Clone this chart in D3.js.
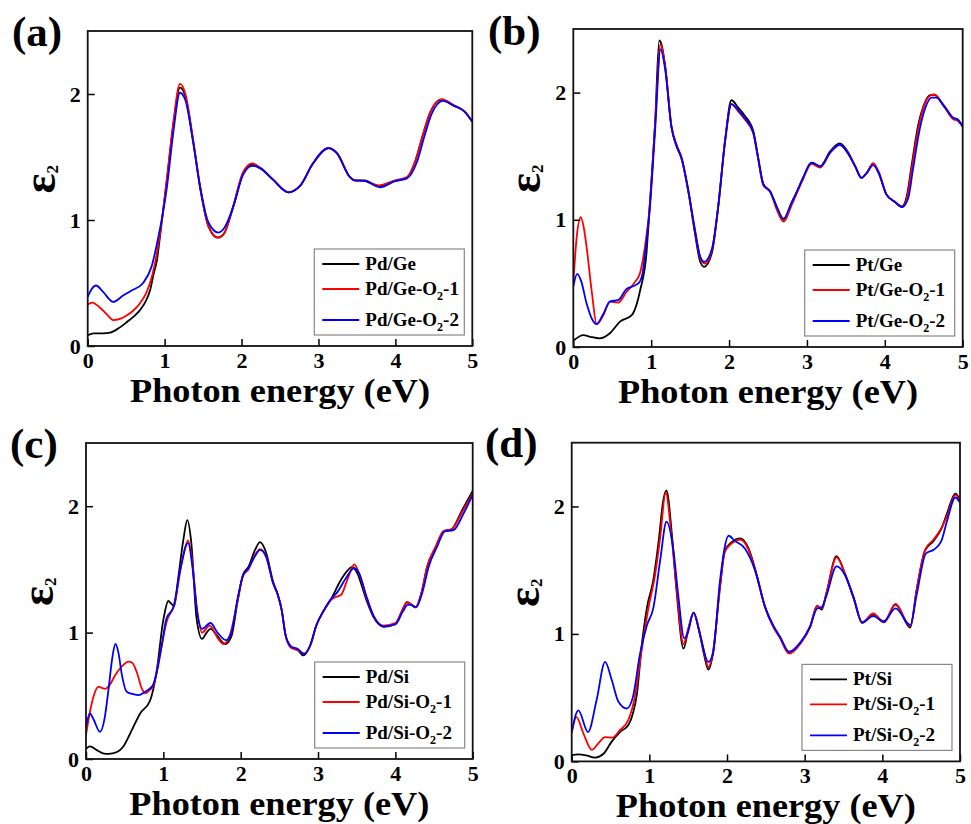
<!DOCTYPE html>
<html>
<head>
<meta charset="utf-8">
<script src="https://cdn.jsdelivr.net/npm/d3@7/dist/d3.min.js"></script>
<style>
  body { margin: 0; background: #fff; }
  text { font-family: "Liberation Serif", "Times New Roman", serif; font-weight: bold; fill: #000; }
</style>
</head>
<body>
<script>
// ---------------- DATA ----------------
const xTicks = [0, 1, 2, 3, 4, 5];
const yTicks = [0, 1, 2];
const xDomain = [0, 5];
const yDomain = [0, 2.5];
const xTitle = "Photon energy (eV)";
const panelLabels = ["(a)", "(b)", "(c)", "(d)"];

const legendA = ["Pd/Ge", "Pd/Ge-O2-1", "Pd/Ge-O2-2"];
const legendB = ["Pt/Ge", "Pt/Ge-O2-1", "Pt/Ge-O2-2"];
const legendC = ["Pd/Si", "Pd/Si-O2-1", "Pd/Si-O2-2"];
const legendD = ["Pt/Si", "Pt/Si-O2-1", "Pt/Si-O2-2"];

// (a) Pd/Ge  [energy eV, eps2]
const pdGe = [[0,0.085],[0.08,0.1],[0.2,0.1],[0.29,0.106],[0.4,0.14],[0.51,0.19],[0.6,0.235],[0.68,0.285],[0.75,0.35],[0.81,0.44],[0.86,0.58],[0.9,0.68],[0.94,0.87],[1.03,1.32],[1.11,1.74],[1.2,2.05],[1.27,1.98],[1.37,1.63],[1.46,1.26],[1.57,0.95],[1.69,0.86],[1.77,0.89],[1.89,1.1],[2.02,1.37],[2.13,1.44],[2.24,1.41],[2.41,1.32],[2.61,1.22],[2.76,1.27],[2.93,1.45],[3.13,1.57],[3.24,1.53],[3.41,1.34],[3.47,1.315],[3.6,1.315],[3.78,1.27],[4.0,1.31],[4.15,1.335],[4.26,1.47],[4.36,1.68],[4.45,1.85],[4.6,1.955],[4.75,1.91],[4.9,1.86],[5.0,1.78]];
const pdGeO1 = [[0,0.33],[0.06,0.345],[0.15,0.31],[0.25,0.25],[0.33,0.206],[0.42,0.215],[0.5,0.24],[0.59,0.28],[0.68,0.34],[0.76,0.42],[0.83,0.54],[0.94,0.89],[1.03,1.33],[1.11,1.76],[1.2,2.08],[1.27,2.0],[1.37,1.64],[1.46,1.27],[1.57,0.95],[1.7,0.86],[1.78,0.9],[1.89,1.11],[2.02,1.38],[2.14,1.45],[2.25,1.41],[2.41,1.32],[2.61,1.22],[2.76,1.27],[2.93,1.45],[3.13,1.57],[3.24,1.53],[3.41,1.34],[3.47,1.315],[3.6,1.31],[3.78,1.275],[4.0,1.315],[4.15,1.34],[4.26,1.47],[4.36,1.68],[4.45,1.85],[4.6,1.96],[4.75,1.915],[4.9,1.86],[5.0,1.78]];
const pdGeO2 = [[0,0.39],[0.05,0.45],[0.108,0.48],[0.2,0.43],[0.33,0.35],[0.46,0.4],[0.57,0.44],[0.72,0.5],[0.83,0.63],[0.9,0.81],[1.03,1.26],[1.11,1.68],[1.2,2.01],[1.27,1.95],[1.37,1.62],[1.46,1.27],[1.57,0.98],[1.7,0.9],[1.78,0.94],[1.9,1.12],[2.02,1.36],[2.14,1.43],[2.25,1.41],[2.41,1.32],[2.61,1.22],[2.76,1.27],[2.93,1.45],[3.13,1.57],[3.24,1.53],[3.41,1.34],[3.47,1.315],[3.6,1.31],[3.8,1.26],[4.0,1.31],[4.15,1.33],[4.28,1.46],[4.38,1.67],[4.47,1.84],[4.62,1.945],[4.75,1.91],[4.9,1.86],[5.0,1.78]];

// (b) Pt/Ge
const ptGe = [[0,0.05],[0.13,0.094],[0.22,0.08],[0.34,0.068],[0.47,0.108],[0.6,0.2],[0.75,0.25],[0.86,0.45],[0.94,0.74],[0.98,1.1],[1.05,1.76],[1.104,2.41],[1.12,2.4],[1.18,2.21],[1.26,1.73],[1.33,1.57],[1.39,1.48],[1.48,1.21],[1.56,0.9],[1.63,0.67],[1.68,0.63],[1.78,0.74],[1.86,1.1],[1.95,1.63],[2.03,1.94],[2.12,1.88],[2.2,1.82],[2.31,1.7],[2.37,1.5],[2.44,1.28],[2.53,1.22],[2.6,1.12],[2.7,1.0],[2.8,1.13],[2.87,1.22],[2.95,1.33],[3.06,1.45],[3.17,1.42],[3.3,1.54],[3.42,1.6],[3.53,1.53],[3.62,1.42],[3.7,1.33],[3.77,1.37],[3.85,1.44],[3.92,1.37],[4.02,1.2],[4.13,1.14],[4.22,1.105],[4.28,1.18],[4.34,1.41],[4.43,1.75],[4.5,1.9],[4.58,1.98],[4.64,1.98],[4.75,1.9],[4.88,1.8],[4.93,1.79],[5.0,1.735]];
const ptGeO1 = [[0,0.5],[0.04,0.84],[0.095,1.02],[0.14,0.92],[0.17,0.79],[0.24,0.42],[0.3,0.18],[0.385,0.25],[0.47,0.357],[0.58,0.35],[0.68,0.43],[0.79,0.51],[0.856,0.58],[0.92,0.79],[0.98,1.1],[1.05,1.75],[1.12,2.38],[1.18,2.2],[1.26,1.74],[1.33,1.58],[1.39,1.48],[1.48,1.22],[1.56,0.92],[1.63,0.7],[1.69,0.655],[1.78,0.76],[1.86,1.1],[1.95,1.63],[2.03,1.91],[2.12,1.85],[2.2,1.79],[2.31,1.68],[2.37,1.49],[2.44,1.27],[2.53,1.22],[2.6,1.1],[2.7,0.985],[2.8,1.11],[2.87,1.21],[2.95,1.32],[3.06,1.44],[3.17,1.41],[3.3,1.53],[3.42,1.59],[3.53,1.52],[3.62,1.42],[3.7,1.33],[3.77,1.37],[3.85,1.445],[3.92,1.38],[4.02,1.2],[4.13,1.14],[4.22,1.1],[4.28,1.16],[4.34,1.38],[4.43,1.72],[4.5,1.89],[4.58,1.975],[4.64,1.985],[4.75,1.9],[4.88,1.79],[4.93,1.78],[5.0,1.73]];
const ptGeO2 = [[0,0.475],[0.05,0.575],[0.1,0.52],[0.17,0.344],[0.24,0.22],[0.3,0.18],[0.385,0.26],[0.47,0.357],[0.58,0.37],[0.68,0.454],[0.81,0.49],[0.86,0.52],[0.89,0.58],[0.93,0.78],[0.98,1.07],[1.05,1.7],[1.12,2.34],[1.18,2.18],[1.26,1.73],[1.33,1.58],[1.39,1.49],[1.48,1.22],[1.56,0.93],[1.63,0.71],[1.68,0.67],[1.78,0.77],[1.86,1.1],[1.95,1.62],[2.03,1.91],[2.12,1.86],[2.2,1.8],[2.31,1.69],[2.37,1.5],[2.44,1.28],[2.53,1.22],[2.6,1.12],[2.7,1.01],[2.8,1.13],[2.87,1.22],[2.95,1.33],[3.06,1.45],[3.17,1.42],[3.3,1.53],[3.42,1.59],[3.53,1.52],[3.62,1.42],[3.7,1.33],[3.77,1.37],[3.85,1.43],[3.92,1.37],[4.02,1.2],[4.13,1.14],[4.22,1.1],[4.3,1.17],[4.36,1.39],[4.45,1.72],[4.52,1.88],[4.6,1.96],[4.66,1.96],[4.77,1.89],[4.88,1.8],[4.93,1.79],[5.0,1.735]];

// (c) Pd/Si
const pdSi = [[0,0.08],[0.05,0.1],[0.14,0.07],[0.22,0.045],[0.29,0.04],[0.4,0.055],[0.48,0.097],[0.57,0.2],[0.7,0.36],[0.83,0.465],[0.91,0.68],[1.0,1.1],[1.065,1.25],[1.1,1.23],[1.14,1.21],[1.19,1.42],[1.26,1.74],[1.31,1.89],[1.36,1.72],[1.43,1.11],[1.5,0.95],[1.56,1.0],[1.61,1.03],[1.69,0.98],[1.8,0.91],[1.88,0.97],[1.96,1.25],[2.03,1.46],[2.1,1.52],[2.19,1.66],[2.25,1.715],[2.33,1.63],[2.42,1.4],[2.48,1.3],[2.53,1.18],[2.58,0.98],[2.65,0.89],[2.74,0.86],[2.81,0.82],[2.9,0.9],[2.98,1.06],[3.07,1.17],[3.16,1.255],[3.29,1.41],[3.38,1.49],[3.44,1.52],[3.5,1.48],[3.63,1.25],[3.72,1.12],[3.85,1.045],[4.0,1.07],[4.1,1.19],[4.15,1.24],[4.19,1.23],[4.26,1.2],[4.34,1.32],[4.41,1.52],[4.52,1.67],[4.62,1.8],[4.73,1.82],[4.86,1.965],[5.0,2.12]];
const pdSiO1 = [[0,0.19],[0.05,0.37],[0.1,0.5],[0.16,0.57],[0.25,0.555],[0.3,0.58],[0.375,0.66],[0.46,0.73],[0.55,0.77],[0.6,0.76],[0.66,0.68],[0.72,0.56],[0.77,0.52],[0.83,0.55],[0.87,0.58],[0.96,0.84],[1.04,1.08],[1.15,1.24],[1.24,1.56],[1.32,1.73],[1.37,1.58],[1.43,1.21],[1.5,1.0],[1.6,1.055],[1.71,0.95],[1.78,0.91],[1.86,0.98],[1.96,1.25],[2.03,1.45],[2.1,1.5],[2.19,1.62],[2.25,1.66],[2.33,1.6],[2.42,1.39],[2.48,1.3],[2.53,1.18],[2.58,0.98],[2.65,0.88],[2.74,0.86],[2.82,0.835],[2.9,0.9],[2.98,1.06],[3.07,1.17],[3.16,1.255],[3.22,1.28],[3.3,1.3],[3.38,1.42],[3.47,1.54],[3.53,1.47],[3.63,1.27],[3.72,1.13],[3.85,1.055],[4.0,1.075],[4.1,1.19],[4.15,1.24],[4.19,1.23],[4.26,1.2],[4.34,1.32],[4.41,1.52],[4.52,1.68],[4.62,1.8],[4.73,1.82],[4.86,1.95],[5.0,2.1]];
const pdSiO2 = [[0,0.25],[0.05,0.36],[0.1,0.31],[0.18,0.215],[0.24,0.32],[0.29,0.545],[0.34,0.8],[0.38,0.91],[0.42,0.84],[0.46,0.68],[0.53,0.53],[0.6,0.515],[0.68,0.505],[0.76,0.53],[0.83,0.56],[0.87,0.59],[0.92,0.7],[0.98,0.9],[1.04,1.11],[1.13,1.2],[1.22,1.5],[1.32,1.71],[1.38,1.5],[1.44,1.15],[1.5,1.03],[1.61,1.076],[1.7,1.0],[1.81,0.94],[1.88,1.0],[1.96,1.27],[2.03,1.45],[2.1,1.51],[2.19,1.61],[2.25,1.655],[2.33,1.6],[2.42,1.39],[2.48,1.3],[2.53,1.18],[2.58,0.98],[2.65,0.89],[2.74,0.87],[2.82,0.83],[2.9,0.9],[2.98,1.06],[3.07,1.17],[3.16,1.26],[3.25,1.32],[3.35,1.42],[3.47,1.51],[3.53,1.47],[3.63,1.28],[3.72,1.13],[3.85,1.05],[4.0,1.065],[4.1,1.17],[4.16,1.22],[4.2,1.22],[4.27,1.2],[4.35,1.32],[4.43,1.52],[4.54,1.68],[4.64,1.8],[4.75,1.81],[4.88,1.94],[5.0,2.09]];

// (d) Pt/Si
const ptSi = [[0,0.05],[0.086,0.055],[0.2,0.045],[0.3,0.03],[0.41,0.06],[0.515,0.155],[0.62,0.23],[0.73,0.285],[0.79,0.38],[0.84,0.53],[0.9,0.9],[0.97,1.21],[1.05,1.42],[1.12,1.73],[1.18,2.05],[1.22,2.125],[1.29,1.78],[1.35,1.34],[1.44,0.885],[1.5,1.03],[1.57,1.167],[1.63,1.055],[1.7,0.85],[1.76,0.72],[1.82,0.85],[1.91,1.37],[1.97,1.65],[2.06,1.72],[2.17,1.75],[2.27,1.68],[2.38,1.47],[2.49,1.21],[2.6,1.055],[2.68,0.977],[2.8,0.85],[2.94,0.925],[3.07,1.055],[3.16,1.22],[3.22,1.19],[3.28,1.32],[3.41,1.61],[3.52,1.47],[3.63,1.29],[3.74,1.086],[3.88,1.15],[4.02,1.09],[4.17,1.23],[4.36,1.05],[4.44,1.34],[4.55,1.655],[4.66,1.73],[4.76,1.825],[4.83,1.94],[4.94,2.1],[5.0,2.05]];
const ptSiO1 = [[0,0.22],[0.06,0.35],[0.15,0.22],[0.26,0.09],[0.34,0.14],[0.43,0.19],[0.52,0.186],[0.62,0.245],[0.73,0.325],[0.82,0.53],[0.9,0.87],[0.99,1.21],[1.07,1.45],[1.14,1.76],[1.21,2.11],[1.28,1.8],[1.35,1.36],[1.44,0.92],[1.5,1.04],[1.57,1.167],[1.63,1.06],[1.7,0.87],[1.76,0.74],[1.82,0.86],[1.91,1.37],[1.97,1.64],[2.06,1.71],[2.17,1.74],[2.27,1.67],[2.38,1.46],[2.49,1.21],[2.6,1.05],[2.68,0.97],[2.8,0.845],[2.94,0.92],[3.07,1.055],[3.16,1.22],[3.22,1.2],[3.28,1.32],[3.41,1.6],[3.52,1.47],[3.63,1.28],[3.74,1.09],[3.88,1.16],[4.02,1.095],[4.17,1.235],[4.36,1.06],[4.44,1.34],[4.55,1.66],[4.66,1.74],[4.76,1.83],[4.83,1.92],[4.94,2.09],[5.0,2.04]];
const ptSiO2 = [[0,0.23],[0.086,0.4],[0.21,0.23],[0.32,0.48],[0.43,0.78],[0.515,0.64],[0.6,0.47],[0.71,0.415],[0.79,0.51],[0.88,0.845],[0.97,1.07],[1.05,1.2],[1.14,1.58],[1.22,1.88],[1.31,1.655],[1.37,1.315],[1.45,0.965],[1.49,1.0],[1.57,1.167],[1.65,1.0],[1.76,0.78],[1.82,0.85],[1.91,1.42],[2.02,1.77],[2.1,1.73],[2.23,1.67],[2.36,1.5],[2.49,1.21],[2.6,1.06],[2.68,0.98],[2.8,0.86],[2.94,0.93],[3.07,1.06],[3.16,1.2],[3.22,1.21],[3.28,1.3],[3.41,1.53],[3.52,1.46],[3.63,1.28],[3.74,1.09],[3.88,1.14],[4.02,1.1],[4.17,1.2],[4.36,1.07],[4.44,1.3],[4.56,1.63],[4.66,1.66],[4.76,1.73],[4.83,1.88],[4.94,2.07],[5.0,2.03]];

// ---------------- LAYOUT / STYLE ----------------
const colors = ["#000000", "#ff0000", "#0000ff"];
const panels = [
  { label: panelLabels[0], L: 87.7, R: 472.3, T: 31, B: 346, legend: legendA, series: [pdGe, pdGeO1, pdGeO2], lab: [12, 46] },
  { label: panelLabels[1], L: 573.3, R: 962.7, T: 29, B: 347, legend: legendB, series: [ptGe, ptGeO1, ptGeO2], lab: [488, 45] },
  { label: panelLabels[2], L: 86, R: 472.7, T: 443, B: 759, legend: legendC, series: [pdSi, pdSiO1, pdSiO2], lab: [10, 458] },
  { label: panelLabels[3], L: 571.7, R: 960, T: 442.7, B: 761.4, legend: legendD, series: [ptSi, ptSiO1, ptSiO2], lab: [485, 457] }
];

const W = 971, H = 824;
const svg = d3.select("body").append("svg").attr("width", W).attr("height", H);
svg.append("rect").attr("width", W).attr("height", H).attr("fill", "#fff");

panels.forEach((p, i) => {
  const x = d3.scaleLinear().domain(xDomain).range([p.L, p.R]);
  const y = d3.scaleLinear().domain(yDomain).range([p.B, p.T]);
  const g = svg.append("g");

  const clipId = "clip" + i;
  svg.append("clipPath").attr("id", clipId).append("rect")
    .attr("x", p.L).attr("y", p.T).attr("width", p.R - p.L).attr("height", p.B - p.T);

  const line = d3.line().x(d => x(d[0])).y(d => y(d[1])).curve(d3.curveMonotoneX);
  g.append("g").attr("clip-path", `url(#${clipId})`)
    .selectAll("path").data(p.series).join("path")
    .attr("d", line).attr("fill", "none")
    .attr("stroke", (d, k) => colors[k]).attr("stroke-width", 1.8)
    .attr("stroke-linejoin", "round");

  // axes with inward ticks
  const xa = g.append("g").attr("transform", `translate(0,${p.B})`)
    .call(d3.axisBottom(x).tickValues(xTicks).tickFormat(d3.format("d")).tickSizeInner(-7).tickSizeOuter(0).tickPadding(6));
  const ya = g.append("g").attr("transform", `translate(${p.L},0)`)
    .call(d3.axisLeft(y).tickValues(yTicks).tickFormat(d3.format("d")).tickSizeInner(-7).tickSizeOuter(0).tickPadding(7));
  [xa, ya].forEach(a => {
    a.select(".domain").remove();
    a.selectAll("line").attr("stroke", "#000").attr("stroke-width", 1.5);
    a.selectAll("text").style("font-family", '"Liberation Serif", "Times New Roman", serif')
      .style("font-weight", "bold").style("font-size", "22px").attr("fill", "#000");
  });

  // frame
  g.append("rect").attr("x", p.L).attr("y", p.T).attr("width", p.R - p.L).attr("height", p.B - p.T)
    .attr("fill", "none").attr("stroke", "#111").attr("stroke-width", 1.8);

  // x title
  g.append("text").attr("x", (p.L + p.R) / 2).attr("y", p.B + 56)
    .attr("text-anchor", "middle").style("font-size", "33px")
    .attr("textLength", 300).attr("lengthAdjust", "spacingAndGlyphs").text(xTitle);

  // y title  epsilon_2
  const yt = g.append("text").attr("transform", `translate(${p.L - 33},${(p.T + p.B) / 2 + 5}) rotate(-90)`)
    .style("font-size", "47px").style("font-weight", "bold");
  yt.append("tspan").text("ε");
  yt.append("tspan").attr("dy", 3).style("font-size", "17px").text("2");

  // panel label
  g.append("text").attr("x", p.lab[0]).attr("y", p.lab[1]).style("font-size", "43px").text(p.label);

  // legend
  const lw = 150, lh = 86;
  const lx = p.R - 8 - lw, ly = p.B - 11 - lh;
  const lg = g.append("g").attr("transform", `translate(${lx},${ly})`);
  lg.append("rect").attr("width", lw).attr("height", lh).attr("fill", "#fff")
    .attr("stroke", "#888").attr("stroke-width", 1.2);
  const rowY = [15, 40, 71];
  p.legend.forEach((name, k) => {
    lg.append("line").attr("x1", 8).attr("x2", 45).attr("y1", rowY[k]).attr("y2", rowY[k])
      .attr("stroke", colors[k]).attr("stroke-width", 1.8);
    const t = lg.append("text").attr("x", 51).attr("y", rowY[k] + 6).style("font-size", "19px");
    const parts = name.split("O2");
    if (parts.length === 2) {
      t.append("tspan").text(parts[0] + "O");
      t.append("tspan").attr("dy", 5).style("font-size", "12px").text("2");
      t.append("tspan").attr("dy", -5).text(parts[1]);
    } else {
      t.text(name);
    }
  });
});
</script>
</body>
</html>
